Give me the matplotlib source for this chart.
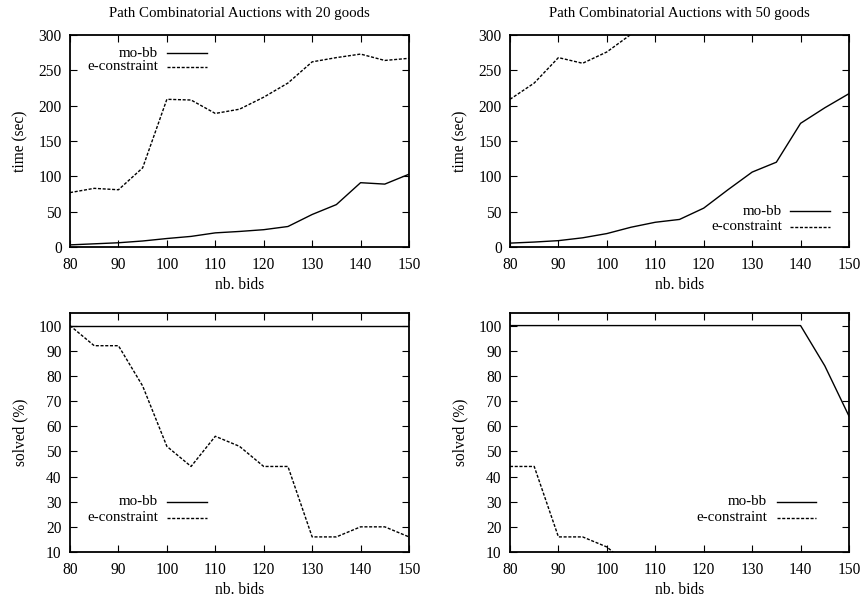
import matplotlib
matplotlib.use("Agg")
import matplotlib.pyplot as plt
import numpy as np

plt.rcParams['font.family'] = ['Liberation Serif', 'DejaVu Serif']

bids = [80, 85, 90, 95, 100, 105, 110, 115, 120, 125, 130, 135, 140, 145, 150]

# 20 goods, time (sec)
time20_mobb = [3, 4.5, 6, 8.5, 12, 15, 20, 22, 24.5, 29, 46, 60, 91, 89, 103]
time20_econ = [77, 83, 81, 112, 209, 208, 189, 195, 212, 232, 262, 268, 273, 264, 267]

# 50 goods, time (sec)
time50_mobb = [5.5, 7, 9, 13, 19, 28, 35, 39, 55, 81, 106, 120, 175, 197, 217]
bids50_econ = [80, 85, 90, 95, 100, 105]
time50_econ = [209, 232, 268, 260, 276, 301]

# 20 goods, solved (%)
solved20_mobb = [100] * 15
solved20_econ = [100, 92, 92, 76, 52, 44, 56, 52, 44, 44, 16, 16, 20, 20, 16]

# 50 goods, solved (%)
solved50_mobb = [100, 100, 100, 100, 100, 100, 100, 100, 100, 100, 100, 100, 100, 84, 64]
solved50_econ = [44, 44, 16, 16, 12, 4]

titles = ["Path Combinatorial Auctions with 20 goods",
          "Path Combinatorial Auctions with 50 goods"]
labels = ["mo-bb", "e-constraint"]

W, H = 860, 603
fig = plt.figure(figsize=(W / 100, H / 100), dpi=100)

def rect(l, t, r, b):
    return [l / W, 1 - b / H, (r - l) / W, (b - t) / H]

ax_tl = fig.add_axes(rect(70, 35, 409, 247))
ax_tr = fig.add_axes(rect(510, 35, 849, 247))
ax_bl = fig.add_axes(rect(70, 313, 409, 552))
ax_br = fig.add_axes(rect(510, 313, 849, 552))

solid = dict(color='black', lw=1.0, linestyle='-')
dashed = dict(color='black', lw=1.0, linestyle=(0, (2.2, 1.2)))

FS = 11.2
LFS = 10.8

def style(ax, ylim, yticks, ylabel):
    ax.set_xlim(80, 150)
    ax.set_ylim(*ylim)
    ax.set_xticks(range(80, 151, 10))
    ax.set_yticks(yticks)
    ax.tick_params(direction='in', top=True, right=True, length=5, width=0.8,
                   labelsize=FS, colors='black')
    ax.tick_params(axis='x', pad=7)
    ax.tick_params(axis='y', pad=6)
    for s in ax.spines.values():
        s.set_linewidth(1.3)
    ax.set_xlabel("nb. bids", fontsize=FS, labelpad=3)
    ax.set_ylabel(ylabel, fontsize=FS, labelpad=7)

def legend(ax, tx, lx0, lx1, y0, y1):
    for y, lab, st in [(y0, labels[0], solid), (y1, labels[1], dashed)]:
        ax.text(tx, y, lab, transform=ax.transAxes, ha='right', va='center', fontsize=LFS)
        ax.plot([lx0, lx1], [y, y], transform=ax.transAxes, clip_on=False, **st)

ax_tl.plot(bids, time20_mobb, **solid)
ax_tl.plot(bids, time20_econ, **dashed)
style(ax_tl, (0, 300), range(0, 301, 50), "time (sec)")
ax_tl.set_title(titles[0], fontsize=10.7, pad=13)
legend(ax_tl, 0.259, 0.286, 0.404, 0.913, 0.851)

ax_tr.plot(bids, time50_mobb, **solid)
ax_tr.plot(bids50_econ, time50_econ, **dashed)
style(ax_tr, (0, 300), range(0, 301, 50), "time (sec)")
ax_tr.set_title(titles[1], fontsize=10.7, pad=13)
legend(ax_tr, 0.802, 0.826, 0.944, 0.168, 0.096)

ax_bl.plot(bids, solved20_mobb, **solid)
ax_bl.plot(bids, solved20_econ, **dashed)
style(ax_bl, (10, 105), range(10, 101, 10), "solved (%)")
legend(ax_bl, 0.259, 0.286, 0.404, 0.211, 0.144)

ax_br.plot(bids, solved50_mobb, **solid)
ax_br.plot(bids50_econ, solved50_econ, **dashed)
style(ax_br, (10, 105), range(10, 101, 10), "solved (%)")
legend(ax_br, 0.758, 0.788, 0.903, 0.211, 0.144)

fig.savefig("out.png", dpi=100, facecolor='white')
